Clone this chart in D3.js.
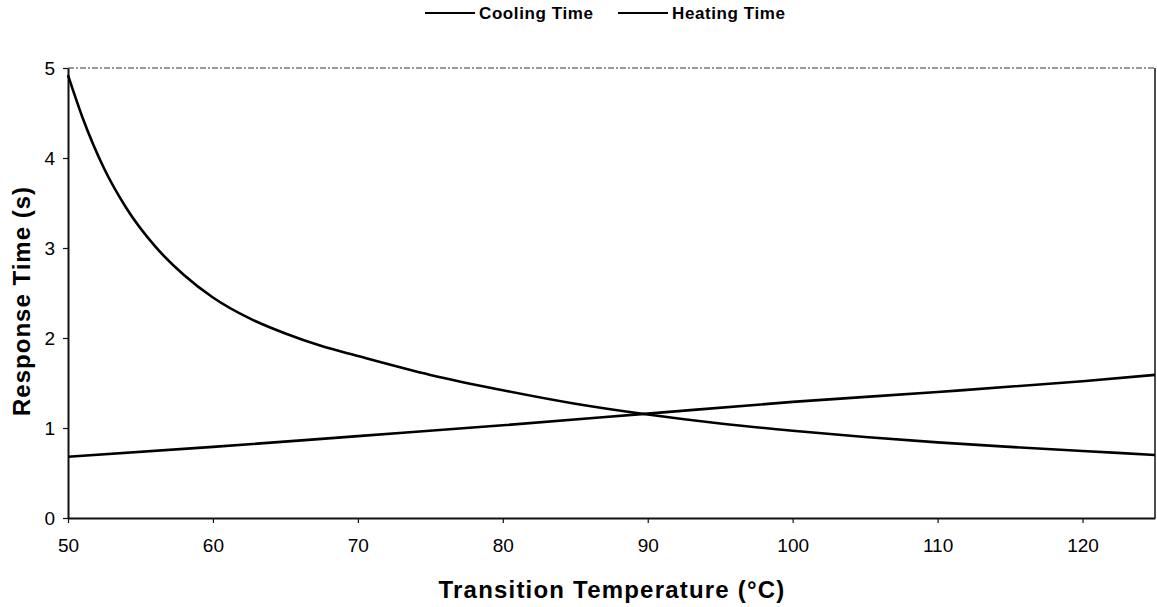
<!DOCTYPE html>
<html>
<head>
<meta charset="utf-8">
<script src="https://cdn.jsdelivr.net/npm/d3@7"></script>
<style>
  body { margin: 0; background: #fff; }
  svg { font-family: "Liberation Sans", Arial, sans-serif; }
</style>
</head>
<body>
<div id="chart"></div>
<script>
// values
const coolingTemp = [50, 51, 52.5, 54, 56, 58, 60, 62.5, 65, 67.5, 70, 75, 80, 85, 90, 95, 100, 105, 110, 115, 120, 125];
const coolingTime = [4.92, 4.45, 3.88, 3.45, 3.02, 2.70, 2.45, 2.22, 2.05, 1.91, 1.80, 1.59, 1.42, 1.27, 1.15, 1.05, 0.97, 0.90, 0.84, 0.79, 0.745, 0.70];
const heatingTemp = [50, 60, 70, 80, 90, 100, 110, 120, 125];
const heatingTime = [0.68, 0.79, 0.91, 1.03, 1.16, 1.29, 1.40, 1.52, 1.59];
const xTicks = [50, 60, 70, 80, 90, 100, 110, 120];
const yTicks = [0, 1, 2, 3, 4, 5];
const seriesNames = ["Cooling Time", "Heating Time"];

const W = 1157, H = 607;
const margin = { top: 68, right: 2, bottom: 89, left: 68 },
    width = W - margin.left - margin.right,
    height = H - margin.top - margin.bottom;

const root = d3.select("#chart")
    .append("svg")
        .attr("width", W)
        .attr("height", H);

const svg = root.append("g")
    .attr("transform", `translate(${margin.left},${margin.top})`);

const x = d3.scaleLinear().domain([50, 125]).range([0, width]);
const y = d3.scaleLinear().domain([0, 5]).range([height, 0]);

// frame: broken top edge, solid right edge
svg.append("line")
    .attr("x1", 0).attr("x2", width).attr("y1", 0).attr("y2", 0)
    .attr("stroke", "#333").attr("stroke-width", 1)
    .attr("stroke-dasharray", "6,2,2,2");
svg.append("line")
    .attr("x1", width).attr("x2", width).attr("y1", 0).attr("y2", height)
    .attr("stroke", "#111").attr("stroke-width", 1.5);

const xAxisGroup = svg.append("g")
    .attr("transform", `translate(0,${height})`)
    .call(d3.axisBottom(x).tickValues(xTicks).tickSize(5).tickPadding(16).tickSizeOuter(0));

const yAxisGroup = svg.append("g")
    .call(d3.axisLeft(y).tickValues(yTicks).tickFormat(d3.format("d"))
        .tickSize(5).tickPadding(8).tickSizeOuter(0));

[xAxisGroup, yAxisGroup].forEach(g => {
    g.select("path").attr("stroke", "#111").attr("stroke-width", 2);
    g.selectAll("line").attr("stroke", "#111").attr("stroke-width", 1.2);
    g.selectAll("text")
        .style("font-size", "19px")
        .style("font-family", "'Liberation Sans', Arial, sans-serif")
        .style("fill", "#000");
});

svg.append("text")
    .attr("x", 612 - margin.left)
    .attr("y", height + 80)
    .attr("text-anchor", "middle")
    .style("font-size", "24px")
    .style("font-weight", "bold")
    .style("letter-spacing", "1.2px")
    .text("Transition Temperature (°C)");

svg.append("text")
    .attr("transform", "rotate(-90)")
    .attr("x", -(301 - margin.top))
    .attr("y", -margin.left + 30)
    .attr("text-anchor", "middle")
    .style("font-size", "24px")
    .style("font-weight", "bold")
    .style("letter-spacing", "1px")
    .text("Response Time (s)");

const line = d3.line()
    .x(d => x(d[0]))
    .y(d => y(d[1]))
    .curve(d3.curveMonotoneX);

const cooling = coolingTemp.map((t, i) => [t, coolingTime[i]]);
const heating = heatingTemp.map((t, i) => [t, heatingTime[i]]);

[cooling, heating].forEach(data => {
    svg.append("path")
        .datum(data)
        .attr("fill", "none")
        .attr("stroke", "#000")
        .attr("stroke-width", 2.6)
        .attr("d", line);
});

// legend
const legendX = [425, 618];
seriesNames.forEach((name, i) => {
    const g = root.append("g").attr("transform", `translate(${legendX[i]},13)`);
    g.append("line")
        .attr("x1", 0).attr("x2", 50).attr("y1", 0).attr("y2", 0)
        .attr("stroke", "#000").attr("stroke-width", 2);
    g.append("text")
        .attr("x", 54)
        .attr("y", 6)
        .style("font-size", "17px")
        .style("font-weight", "bold")
        .style("letter-spacing", "0.6px")
        .text(name);
});
</script>
</body>
</html>
